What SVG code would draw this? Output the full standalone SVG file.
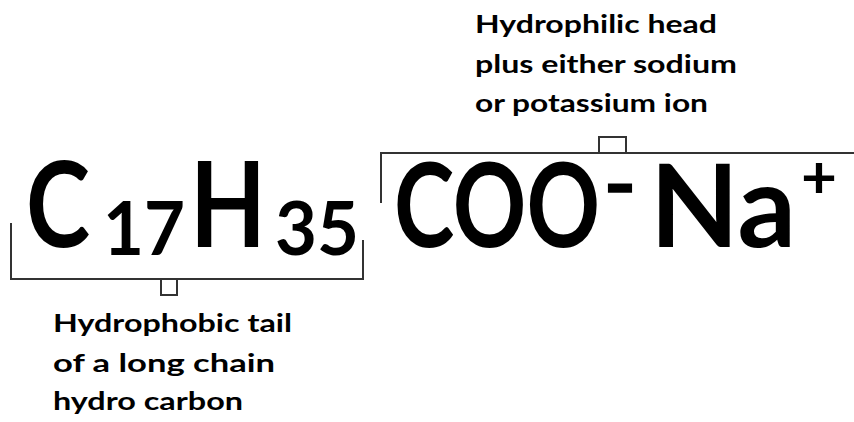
<svg xmlns="http://www.w3.org/2000/svg" width="854" height="422" viewBox="0 0 854 422">
<style>
.big{font-family:"Comic Sans MS","Lato","Open Sans",sans-serif;font-weight:bold;fill:#000}
.lbl{font-family:"Comic Sans MS","Lato","Open Sans",sans-serif;font-weight:bold;font-size:25px;fill:#000}
.br{fill:none;stroke:#333;stroke-width:2}
</style>
<rect width="854" height="422" fill="#fff"/>
<g id="tail-formula">
<text class="big" x="26" y="247" font-size="118" textLength="64" lengthAdjust="spacingAndGlyphs">C</text>
<text class="big" x="103" y="255" font-size="74" textLength="82" lengthAdjust="spacingAndGlyphs">17</text>
<text class="big" x="190" y="247" font-size="118" textLength="76" lengthAdjust="spacingAndGlyphs">H</text>
<text class="big" x="275" y="255" font-size="74" textLength="84" lengthAdjust="spacingAndGlyphs">35</text>
</g>
<g id="head-formula">
<text class="big" transform="translate(394,247) scale(1,1.28)" x="0" y="0" font-size="92" textLength="206" lengthAdjust="spacingAndGlyphs">COO</text>
<text class="big" x="606" y="205" font-size="56" stroke="#000" stroke-width="3.5" textLength="28" lengthAdjust="spacingAndGlyphs">-</text>
<text class="big" x="650" y="247" font-size="114" textLength="146" lengthAdjust="spacingAndGlyphs">Na</text>
<text class="big" x="801" y="198" font-size="60" textLength="36" lengthAdjust="spacingAndGlyphs">+</text>
</g>
<g id="connectors">
<path class="br" d="M11 223 V279 H363 V240"/>
<path class="br" d="M161 279 V295 H177 V279"/>
<path class="br" d="M381 203 V153 H854"/>
<path class="br" d="M599 153 V137 H626 V153"/>
</g>
<g id="head-label">
<text class="lbl" x="475" y="33" textLength="242" lengthAdjust="spacingAndGlyphs">Hydrophilic head</text>
<text class="lbl" x="475" y="73" textLength="262" lengthAdjust="spacingAndGlyphs">plus either sodium</text>
<text class="lbl" x="475" y="112" textLength="233" lengthAdjust="spacingAndGlyphs">or potassium ion</text>
</g>
<g id="tail-label">
<text class="lbl" x="53" y="332" textLength="239" lengthAdjust="spacingAndGlyphs">Hydrophobic tail</text>
<text class="lbl" x="53" y="372" textLength="222" lengthAdjust="spacingAndGlyphs">of a long chain</text>
<text class="lbl" x="53" y="410" textLength="190" lengthAdjust="spacingAndGlyphs">hydro carbon</text>
</g>
</svg>
